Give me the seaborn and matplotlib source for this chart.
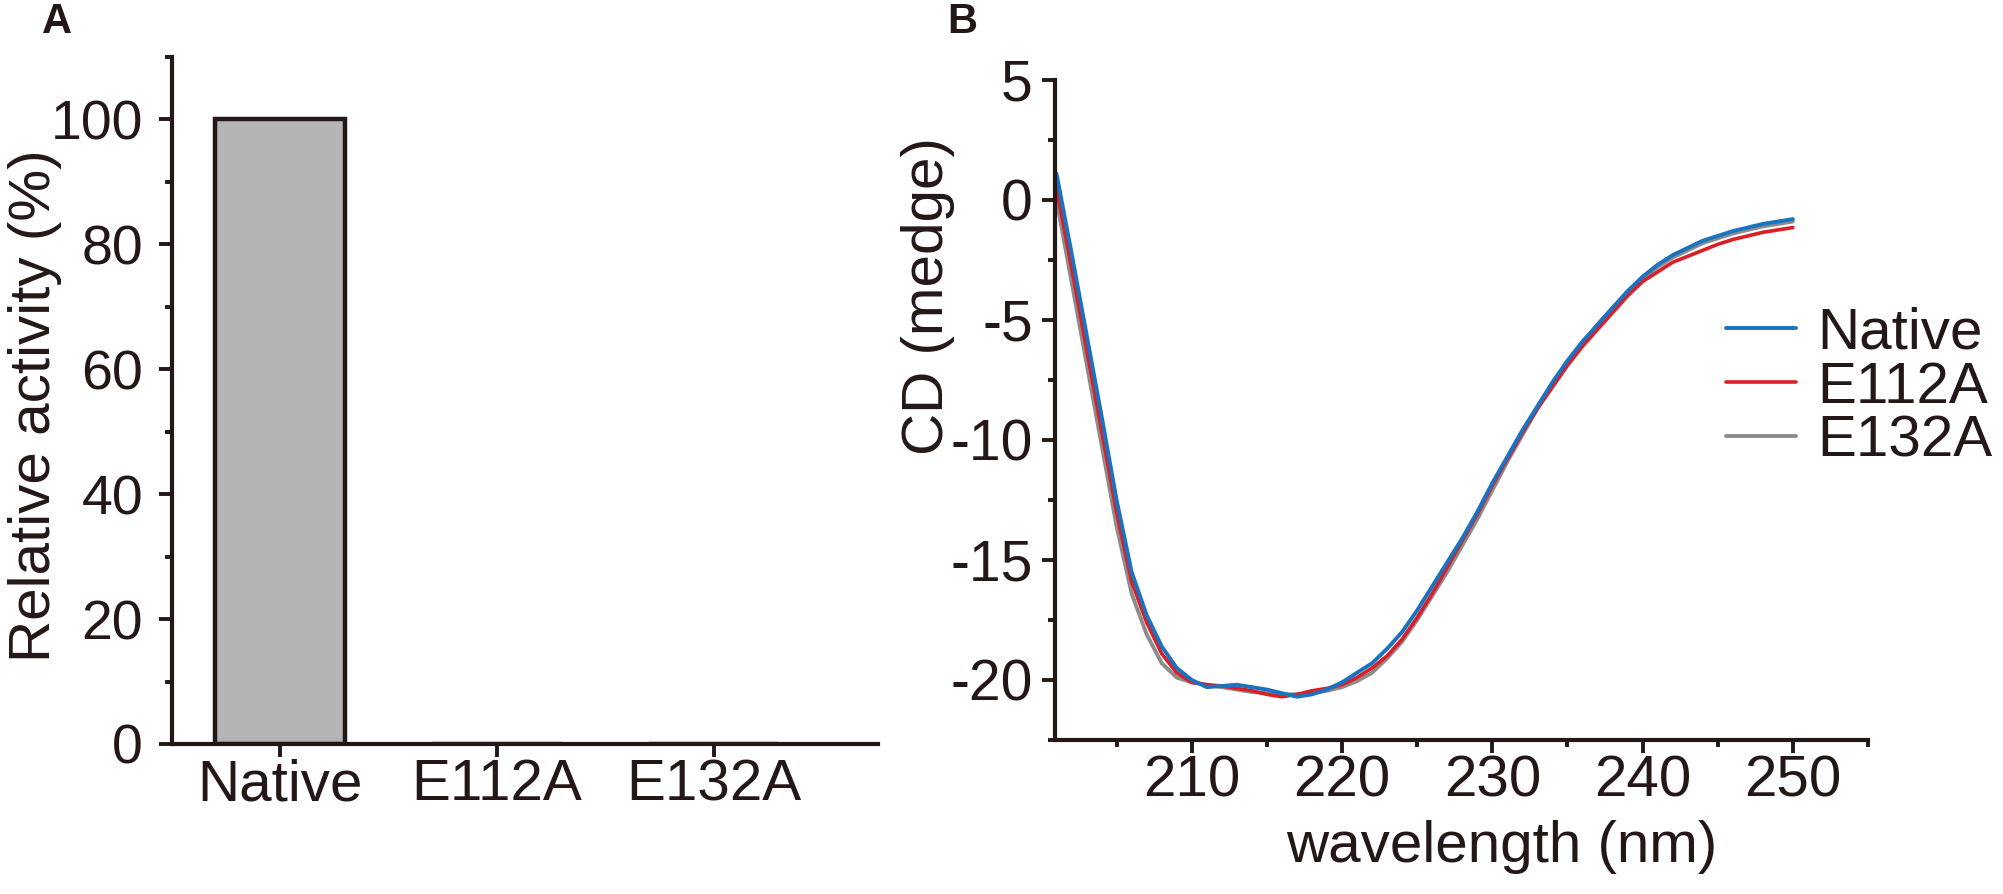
import matplotlib
matplotlib.use("Agg")
import matplotlib.pyplot as plt
import seaborn as sns
from matplotlib.ticker import MultipleLocator

# clean white style, Origin-like axes are set up by hand below
sns.set_theme(style="ticks")
plt.rcParams['font.family'] = ['Liberation Sans', 'DejaVu Sans']
plt.rcParams['axes.unicode_minus'] = False

INK = '#231815'

# panel A: relative activity
mutants = ["Native", "E112A", "E132A"]
activity = [100, 0, 0]

# panel B: CD spectra (1 nm steps)
wavelength = [201, 202, 203, 204, 205, 206, 207, 208, 209, 210,
              211, 212, 213, 214, 215, 216, 217, 218, 219, 220,
              221, 222, 223, 224, 225, 226, 227, 228, 229, 230,
              231, 232, 233, 234, 235, 236, 237, 238, 239, 240,
              241, 242, 243, 244, 245, 246, 247, 248, 249, 250]
cd_native = [1.1, -2.2, -5.6, -9.0, -12.5, -15.5, -17.3, -18.6, -19.5, -20.0,
             -20.3, -20.25, -20.2, -20.3, -20.4, -20.55, -20.7, -20.6, -20.4, -20.1,
             -19.7, -19.3, -18.7, -18.0, -17.1, -16.1, -15.1, -14.1, -13.0, -11.8,
             -10.7, -9.6, -8.6, -7.6, -6.7, -5.9, -5.2, -4.5, -3.8, -3.2,
             -2.7, -2.3, -2.0, -1.7, -1.5, -1.3, -1.15, -1.0, -0.9, -0.8]
cd_e112a = [0.5, -2.8, -6.2, -9.6, -13.0, -15.9, -17.6, -18.9, -19.7, -20.1,
            -20.2, -20.25, -20.35, -20.45, -20.6, -20.7, -20.6, -20.45, -20.35, -20.2,
            -19.9, -19.5, -19.0, -18.3, -17.4, -16.4, -15.3, -14.2, -13.1, -11.9,
            -10.8, -9.7, -8.7, -7.8, -6.9, -6.1, -5.4, -4.7, -4.0, -3.4,
            -3.0, -2.6, -2.35, -2.1, -1.85, -1.65, -1.5, -1.35, -1.25, -1.15]
cd_e132a = [0.0, -3.4, -6.8, -10.2, -13.6, -16.4, -18.1, -19.3, -19.9, -20.1,
            -20.2, -20.3, -20.4, -20.5, -20.55, -20.6, -20.6, -20.55, -20.45, -20.3,
            -20.05, -19.7, -19.1, -18.4, -17.5, -16.5, -15.5, -14.4, -13.3, -12.1,
            -10.9, -9.8, -8.7, -7.7, -6.8, -6.0, -5.2, -4.5, -3.85, -3.3,
            -2.8, -2.4, -2.1, -1.8, -1.6, -1.4, -1.25, -1.1, -1.0, -0.9]


def style_axis(ax, ysize, ypad):
    for side in ['top', 'right']:
        ax.spines[side].set_visible(False)
    for side in ['left', 'bottom']:
        ax.spines[side].set_linewidth(3)
        ax.spines[side].set_color(INK)
    ax.tick_params(which='major', direction='out', length=9.4, width=2.8,
                   color=INK, labelcolor=INK)
    ax.tick_params(which='minor', direction='out', length=5, width=2.8, color=INK)
    ax.tick_params(axis='x', which='major', pad=1, labelsize=42)
    ax.tick_params(axis='y', which='major', pad=ypad, labelsize=ysize)


fig = plt.figure(figsize=(20.03, 8.94), dpi=100)
fig.patch.set_facecolor('white')
ax1 = fig.add_axes([0.0859, 0.1678, 0.3525, 0.7685])
ax2 = fig.add_axes([0.5267, 0.1723, 0.4059, 0.7383])

# A - bar chart
sns.barplot(x=mutants, y=activity, color='#b4b4b4', saturation=1, width=0.6,
            edgecolor=INK, linewidth=3.2, ax=ax1)
style_axis(ax1, 40, 11.5)
ax1.set_xlim(-0.5, 2.76)
ax1.set_ylim(0, 110)
ax1.set_yticks([0, 20, 40, 60, 80, 100])
ax1.yaxis.set_minor_locator(MultipleLocator(10))
ax1.set_xlabel("")
ax1.set_ylabel("Relative activity (%)", fontsize=42, color=INK)
ax1.yaxis.set_label_coords(-0.156, 0.492)

# B - CD spectra (grey and red first so blue ends up on top)
sns.lineplot(x=wavelength, y=cd_e132a, color='#8c8c8c', linewidth=2.8, label="E132A", ax=ax2)
sns.lineplot(x=wavelength, y=cd_e112a, color='#dc1e26', linewidth=2.6, label="E112A", ax=ax2)
sns.lineplot(x=wavelength, y=cd_native, color='#1a73c0', linewidth=2.8, label="Native", ax=ax2)
style_axis(ax2, 41, 6.5)
ax2.set_xlim(200.9, 255)
ax2.set_ylim(-22.5, 5)
ax2.set_xticks([210, 220, 230, 240, 250])
ax2.set_yticks([5, 0, -5, -10, -15, -20])
ax2.xaxis.set_minor_locator(MultipleLocator(5))
ax2.yaxis.set_minor_locator(MultipleLocator(2.5))
ax2.set_xlabel("wavelength (nm)", fontsize=42, color=INK)
ax2.set_ylabel("CD (medge)", fontsize=42, color=INK)
ax2.xaxis.set_label_coords(0.55, -0.121)
ax2.yaxis.set_label_coords(-0.123, 0.673)

handles, labels = ax2.get_legend_handles_labels()
order = [labels.index(n) for n in ["Native", "E112A", "E132A"]]
ax2.legend([handles[i] for i in order], [labels[i] for i in order],
           loc='upper left', bbox_to_anchor=(0.8617, 0.657), bbox_transform=fig.transFigure,
           frameon=False, fontsize=42, labelcolor=INK, handlelength=1.2,
           handletextpad=0.36, labelspacing=0.0, borderpad=0, borderaxespad=0)

# panel letters
fig.text(0.021, 1 - 2 / 894, "A", fontsize=30, fontweight='bold', color=INK, va='top', ha='left')
fig.text(0.4728, 1 - 2 / 894, "B", fontsize=30, fontweight='bold', color=INK, va='top', ha='left')

fig.savefig("out.png", dpi=100, facecolor='white')
plt.close(fig)
